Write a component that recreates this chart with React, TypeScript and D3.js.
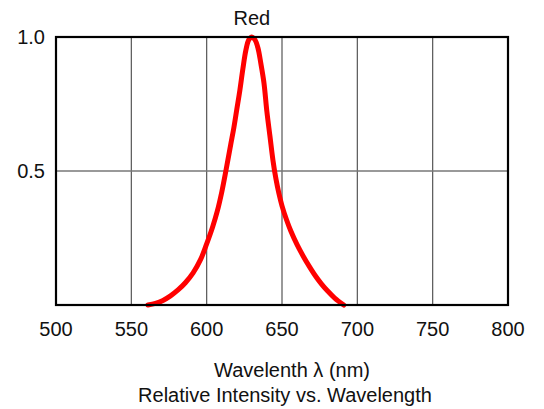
import React from "react";
import * as d3 from "d3";

// spectral curve of the red LED
const wavelengths = [561, 566, 571, 576, 581, 586, 591, 596, 600, 604, 607, 610, 613, 616, 618, 620, 622, 624, 626, 628, 630, 632, 634, 636, 638, 640, 642, 644, 646, 648, 650, 653, 656, 660, 664, 668, 672, 676, 680, 685, 691];
const intensity = [0, 0.006, 0.017, 0.034, 0.056, 0.084, 0.12, 0.17, 0.228, 0.292, 0.349, 0.421, 0.508, 0.6, 0.66, 0.73, 0.8, 0.88, 0.95, 0.99, 1.0, 0.99, 0.96, 0.9, 0.83, 0.72, 0.63, 0.54, 0.47, 0.415, 0.37, 0.318, 0.274, 0.225, 0.183, 0.145, 0.11, 0.08, 0.054, 0.026, 0];

const xTicks = [500, 550, 600, 650, 700, 750, 800];
const yTicks = [0.5, 1.0];
const seriesName = "Red";
const xTitle = "Wavelenth λ (nm)";
const chartTitle = "Relative Intensity vs. Wavelength";

const W = 544;
const H = 409;
const margin = { top: 37, right: 36, bottom: 104, left: 56 };

export default function App() {
  const innerW = W - margin.left - margin.right;
  const innerH = H - margin.top - margin.bottom;

  const x = d3.scaleLinear().domain([500, 800]).range([0, innerW]);
  const y = d3.scaleLinear().domain([0, 1]).range([innerH, 0]);

  const data = wavelengths.map((w, i) => ({ w, v: intensity[i] }));
  const line = d3
    .line<{ w: number; v: number }>()
    .x((d) => x(d.w))
    .y((d) => y(d.v))
    .curve(d3.curveCatmullRom.alpha(0.5));

  const font = "Arial, 'Liberation Sans', sans-serif";

  return (
    <svg width={W} height={H} style={{ position: "absolute", left: 0, top: 0 }} fontFamily={font}>
      <rect width={W} height={H} fill="#fff" />
      <g transform={`translate(${margin.left},${margin.top})`}>
        {/* vertical grid */}
        {xTicks.slice(1, -1).map((t) => (
          <line key={t} x1={x(t)} x2={x(t)} y1={0} y2={innerH} stroke="#555" strokeWidth={1.2} />
        ))}
        {/* horizontal grid */}
        <line x1={0} x2={innerW} y1={y(0.5)} y2={y(0.5)} stroke="#777" strokeWidth={1.5} />

        <path d={line(data) ?? ""} fill="none" stroke="#ff0000" strokeWidth={5} strokeLinecap="round" strokeLinejoin="round" />

        {/* frame */}
        <rect x={0} y={0} width={innerW} height={innerH} fill="none" stroke="#000" strokeWidth={2.2} />

        {xTicks.map((t) => (
          <text key={t} x={x(t)} y={innerH + 31} textAnchor="middle" fontSize={20} fill="#111">
            {t}
          </text>
        ))}
        {yTicks.map((t) => (
          <text key={t} x={-11} y={y(t)} dy="0.35em" textAnchor="end" fontSize={20} fill="#111">
            {t.toFixed(1)}
          </text>
        ))}

        <text x={x(630)} y={-12} textAnchor="middle" fontSize={20} fill="#111">
          {seriesName}
        </text>
      </g>
      <text x={292} y={377} textAnchor="middle" fontSize={20} fill="#111">
        {xTitle}
      </text>
      <text x={285} y={402} textAnchor="middle" fontSize={20} fill="#111">
        {chartTitle}
      </text>
    </svg>
  );
}
